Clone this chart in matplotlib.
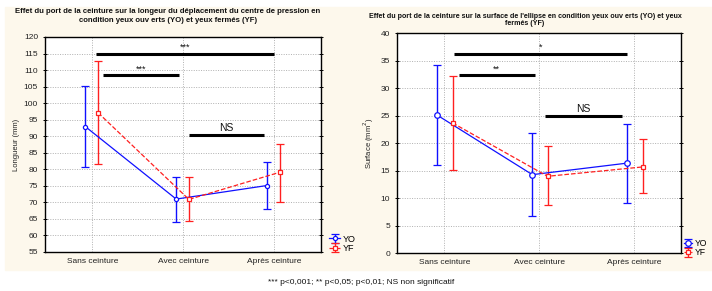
import matplotlib
matplotlib.use("Agg")
import matplotlib.pyplot as plt
from matplotlib.patches import Rectangle
import numpy as np

plt.rcParams["font.family"] = ["Liberation Sans", "DejaVu Sans"]

# --- data ---
categories = ["Sans ceinture", "Avec ceinture", "Après ceinture"]

len_yo = [92.9, 71.0, 75.1]
len_yo_lo = [80.6, 64.2, 68.1]
len_yo_hi = [105.2, 77.8, 82.3]
len_yf = [97.1, 70.9, 79.1]
len_yf_lo = [81.5, 64.5, 70.1]
len_yf_hi = [112.7, 77.7, 87.5]

surf_yo = [25.1, 14.3, 16.4]
surf_yo_lo = [16.0, 6.7, 9.2]
surf_yo_hi = [34.2, 21.9, 23.6]
surf_yf = [23.7, 14.0, 15.7]
surf_yf_lo = [15.1, 8.7, 10.9]
surf_yf_hi = [32.2, 19.5, 20.8]

# significance bars: (x start, x end, y, label)
len_sig = [(0.04, 2.0, 115.0, "***"), (0.12, 0.96, 108.5, "***"), (1.07, 1.89, 90.3, "NS")]
surf_sig = [(0.10, 1.92, 36.3, "*"), (0.15, 0.95, 32.4, "**"), (1.06, 1.87, 24.9, "NS")]

fig = plt.figure(figsize=(7.12, 2.91), dpi=100)
fig.patches.append(Rectangle((5 / 712, 1 - 270 / 291), 1, 263 / 291,
                             transform=fig.transFigure, color="#fdf8ec", zorder=-10))

ax1 = fig.add_axes([45 / 712, 1 - 252 / 291, 276 / 712, 215 / 291])
ax2 = fig.add_axes([397 / 712, 1 - 253.3 / 291, 284 / 712, 220 / 291])

x = np.arange(len(categories))


def draw(ax, yo, yo_lo, yo_hi, yf, yf_lo, yf_hi, off_yo, off_yf, ms):
    yo, yf = np.array(yo), np.array(yf)
    h1 = ax.errorbar(x + off_yo, yo, yerr=[yo - np.array(yo_lo), np.array(yo_hi) - yo],
                     color="#1010ff", lw=0.9, elinewidth=1.0, capsize=3.2, capthick=1.0,
                     marker="o", ms=ms, mfc="white", mec="#1010ff", mew=0.9, label="YO")
    h2 = ax.errorbar(x + off_yf, yf, yerr=[yf - np.array(yf_lo), np.array(yf_hi) - yf],
                     color="#ff2020", ls="--", lw=0.9, elinewidth=1.0, capsize=3.2, capthick=1.0,
                     marker="s", ms=ms - 0.5, mfc="white", mec="#ff2020", mew=0.9, label="YF")
    h2[-1][0].set_linestyle("-")
    return h1, h2


def style(ax, ylim, yticks, ylabel, sig):
    ax.set_xlim(-0.52, 2.52)
    ax.set_ylim(*ylim)
    ax.set_yticks(yticks)
    ax.set_xticks(x)
    ax.set_xticklabels(categories, fontsize=6, color="#222222")
    ax.tick_params(axis="y", labelsize=6, labelcolor="#222222", direction="inout",
                   length=3, width=0.7, right=True)
    ax.tick_params(axis="x", length=0, pad=4)
    ax.grid(True, ls=(0, (1, 1.5)), color="#b0b0b0", lw=0.7)
    ax.set_axisbelow(True)
    for s in ax.spines.values():
        s.set_linewidth(1.0)
    ax.set_ylabel(ylabel, fontsize=5.5, color="#222222", labelpad=3)
    span = ylim[1] - ylim[0]
    for x0, x1, yy, lab in sig:
        ax.plot([x0, x1], [yy, yy], color="black", lw=2.2, solid_capstyle="butt")
        if lab == "NS":
            ax.text((x0 + x1) / 2, yy + span * 0.01, lab, ha="center", va="bottom",
                    fontsize=7.5, color="#111111")
        else:
            ax.text((x0 + x1) / 2, yy + span * 0.008, lab, ha="center", va="bottom",
                    fontsize=6.5, color="#111111")


h = draw(ax1, len_yo, len_yo_lo, len_yo_hi, len_yf, len_yf_lo, len_yf_hi, -0.075, 0.065, 3)
style(ax1, (55, 120), np.arange(55, 121, 5), "Longueur (mm)", len_sig)
ax1.legend(handles=h, labels=["YO", "YF"], loc="lower left", bbox_to_anchor=(1.01, -0.03),
           frameon=False, fontsize=6.5, handlelength=1.2, handletextpad=0.3,
           labelspacing=0.05, borderaxespad=0.2)

h = draw(ax2, surf_yo, surf_yo_lo, surf_yo_hi, surf_yf, surf_yf_lo, surf_yf_hi, -0.075, 0.085, 4)
style(ax2, (0, 40), np.arange(0, 41, 5), "Surface (mm$^2$)", surf_sig)
ax2.set_xlim(-0.5, 2.49)
ax2.legend(handles=h, labels=["YO", "YF"], loc="lower left", bbox_to_anchor=(1.0, -0.03),
           frameon=False, fontsize=6.2, handlelength=1.0, handletextpad=0.25,
           labelspacing=0.05, borderaxespad=0.0, borderpad=0.3)

fig.text(168 / 712, 1 - 16 / 291,
         "Effet du port de la ceinture sur la longeur du déplacement du centre de pression en\n"
         "condition yeux ouv erts (YO) et yeux fermés (YF)",
         ha="center", va="center", fontsize=5.6, fontweight="bold", linespacing=1.25,
         color="#111111")
fig.text(525 / 712, 1 - 20 / 291,
         "Effet du port de la ceinture sur la surface de l'ellipse en condition yeux ouv erts (YO) et yeux\n"
         "fermés (YF)",
         ha="center", va="center", fontsize=5.1, fontweight="bold", linespacing=1.05,
         color="#111111")
fig.text(361 / 712, 1 - 283 / 291,
         "*** p<0,001; ** p<0,05; p<0,01; NS non significatif",
         ha="center", va="center", fontsize=6, color="#111111")

fig.savefig("out.png", dpi=100)
